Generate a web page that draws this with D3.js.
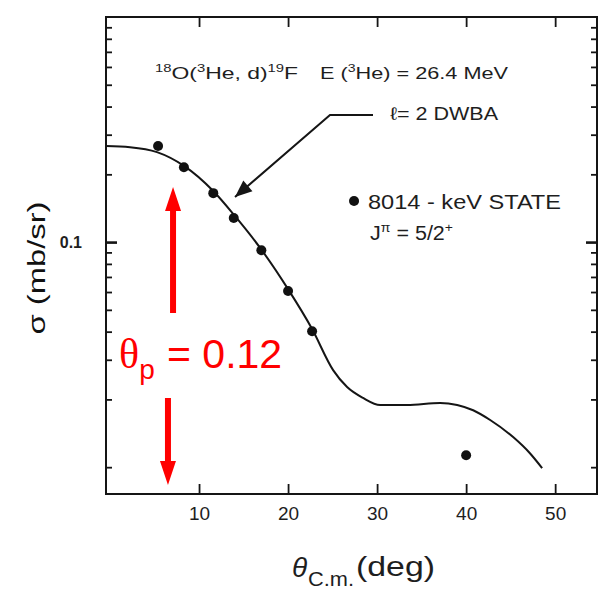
<!DOCTYPE html>
<html>
<head>
<meta charset="utf-8">
<script src="https://cdn.jsdelivr.net/npm/d3@7"></script>
<style>
  body { margin: 0; background: #fff; }
  text { font-family: "Liberation Sans", Arial, sans-serif; }
</style>
</head>
<body>
<svg id="chart" width="602" height="589"></svg>
<script>
// Measured cross sections, 8014-keV state (theta c.m. in degrees, sigma in mb/sr)
const dataTheta = [5.4, 8.3, 11.6, 13.9, 17.0, 20.0, 22.7, 40.0];
const dataSigma = [0.267, 0.215, 0.165, 0.128, 0.092, 0.0606, 0.0402, 0.0113];

// l = 2 DWBA calculation
const dwbaTheta = [-0.45, 2.25, 5.28, 8.31, 11.57, 13.93, 16.97, 20.0, 22.7, 25.06, 26.63,
                   28.43, 30.34, 33.37, 37.08, 38.99, 40.79, 42.70, 45.28, 47.19, 48.54];
const dwbaSigma = [0.267, 0.264, 0.251, 0.218, 0.169, 0.132, 0.093, 0.0618, 0.0411, 0.0270, 0.0227,
                   0.0203, 0.0189, 0.0189, 0.0193, 0.0189, 0.0179, 0.0162, 0.0136, 0.0115, 0.0099];

// Axis ticks
const xTickValues = [10, 20, 30, 40, 50];
const yMajorTicks = [0.1];
const yMinorTicks = [0.01, 0.02, 0.03, 0.04, 0.05, 0.06, 0.07, 0.08, 0.09,
                     0.2, 0.3, 0.4, 0.5, 0.6, 0.7, 0.8, 0.9];
const yTickLabels = ["0.1"];

// Annotation anchors in data space: [theta, sigma]
const leaderPath = [[29.54, 0.367], [24.71, 0.367], [14.04, 0.1586]];
const legendDot = [27.41, 0.1523];
const upArrow = [[7.08, 0.0484], [7.08, 0.1757]];     // base -> tip
const downArrow = [[6.51, 0.0203], [6.51, 0.00834]];  // base -> tip

const svg = d3.select("#chart");
const ink = "#151515";
const txt = "#1e1e1e";

const x = d3.scaleLinear().domain([-0.45, 54.7]).range([106, 597]);
const y = d3.scaleLog().domain([0.0076, 1]).range([494, 17]);

const [x0, x1] = x.range();
const [yb, yt] = y.range();

// Frame
svg.append("rect")
  .attr("x", x0).attr("y", yt)
  .attr("width", x1 - x0).attr("height", yb - yt)
  .attr("fill", "none").attr("stroke", ink).attr("stroke-width", 2);

function styleAxis(g) {
  g.select(".domain").remove();
  g.selectAll(".tick line").attr("stroke", ink).attr("stroke-width", 1.8);
}

// Bottom axis with labels, ticks pointing inward
svg.append("g")
  .attr("transform", `translate(0,${yb})`)
  .call(d3.axisBottom(x).tickValues(xTickValues).tickSize(-10).tickPadding(13)
        .tickFormat(d3.format("d")))
  .call(styleAxis)
  .call(g => g.selectAll("text")
        .attr("font-family", "Liberation Sans, Arial, sans-serif")
        .attr("font-size", 19).attr("fill", txt));

// Top axis
svg.append("g")
  .attr("transform", `translate(0,${yt})`)
  .call(d3.axisTop(x).tickValues(xTickValues).tickSize(-10).tickFormat(""))
  .call(styleAxis);

// Left axis: minor ticks
svg.append("g")
  .attr("transform", `translate(${x0},0)`)
  .call(d3.axisLeft(y).tickValues(yMinorTicks).tickSize(-6).tickFormat(""))
  .call(styleAxis);

// Left axis: major tick with label
svg.append("g")
  .attr("transform", `translate(${x0},0)`)
  .call(d3.axisLeft(y).tickValues(yMajorTicks).tickSize(-11).tickPadding(24)
        .tickFormat((d, i) => yTickLabels[i]))
  .call(styleAxis)
  .call(g => g.selectAll(".tick line").attr("stroke-width", 2.6))
  .call(g => g.selectAll("text")
        .attr("font-family", "Liberation Sans, Arial, sans-serif")
        .attr("font-size", 16).attr("font-weight", "bold").attr("fill", txt));

// Right axis
svg.append("g")
  .attr("transform", `translate(${x1},0)`)
  .call(d3.axisRight(y).tickValues(yMinorTicks).tickSize(-6).tickFormat(""))
  .call(styleAxis);
svg.append("g")
  .attr("transform", `translate(${x1},0)`)
  .call(d3.axisRight(y).tickValues(yMajorTicks).tickSize(-11).tickFormat(""))
  .call(styleAxis)
  .call(g => g.selectAll(".tick line").attr("stroke-width", 2.6));

// DWBA curve
const dwba = dwbaTheta.map((t, i) => [t, dwbaSigma[i]]);
svg.append("path")
  .datum(dwba)
  .attr("fill", "none").attr("stroke", ink).attr("stroke-width", 2)
  .attr("d", d3.line().x(d => x(d[0])).y(d => y(d[1])).curve(d3.curveMonotoneX));

// Data points
const pts = dataTheta.map((t, i) => [t, dataSigma[i]]);
svg.append("g").selectAll("circle")
  .data(pts).join("circle")
  .attr("cx", d => x(d[0])).attr("cy", d => y(d[1]))
  .attr("r", 5).attr("fill", "#111");

// Legend dot
svg.append("circle")
  .attr("cx", x(legendDot[0])).attr("cy", y(legendDot[1]))
  .attr("r", 5).attr("fill", "#111");

// Helpers for lettering with raised/lowered parts
function label(xp, yp, size, width) {
  const t = svg.append("text").attr("x", xp).attr("y", yp)
    .attr("font-size", size).attr("fill", txt);
  if (width) t.attr("textLength", width).attr("lengthAdjust", "spacingAndGlyphs");
  return t;
}
const raise = (t, s, fs, d) => t.append("tspan").attr("font-size", fs).attr("dy", -d).text(s);
const back = (t, s, d) => t.append("tspan").attr("dy", d).text(s);

// Reaction label
const r1 = label(155, 79, 17, 143);
raise(r1, "18", 11, 7); back(r1, "O(", 7);
raise(r1, "3", 11, 7); back(r1, "He, d)", 7);
raise(r1, "19", 11, 7); back(r1, "F", 7);
const r2 = label(320, 79, 17, 188);
r2.append("tspan").text("E (");
raise(r2, "3", 11, 7); back(r2, "He) = 26.4 MeV", 7);

// Leader line and arrow for the DWBA label
const lp = leaderPath.map(d => [x(d[0]), y(d[1])]);
svg.append("path")
  .attr("d", d3.line()(lp))
  .attr("fill", "none").attr("stroke", ink).attr("stroke-width", 2);
{
  const [ax, ay] = lp[lp.length - 2];
  const [tx, ty] = lp[lp.length - 1];
  const ang = Math.atan2(ty - ay, tx - ax);
  const L = 17, W = 7;
  const bx = tx - L * Math.cos(ang), by = ty - L * Math.sin(ang);
  const px = -Math.sin(ang) * W, py = Math.cos(ang) * W;
  svg.append("path")
    .attr("d", `M${tx},${ty}L${bx + px},${by + py}L${bx - px},${by - py}Z`)
    .attr("fill", ink);
}
label(390, 120, 18, 108).text("\u2113= 2 DWBA");

// Legend text
label(368, 209, 20, 193).text("8014 - keV STATE");
const jp = label(370, 240, 20, 83);
jp.append("tspan").text("J");
raise(jp, "\u03c0", 13, 8);
back(jp, " = 5/2", 8);
raise(jp, "+", 13, 8);

// Axis titles
svg.append("text")
  .attr("transform", "translate(45,268) rotate(-90)")
  .attr("text-anchor", "middle")
  .attr("font-size", 23).attr("fill", "#111")
  .attr("textLength", 133).attr("lengthAdjust", "spacingAndGlyphs")
  .text("\u03c3 (mb/sr)");

svg.append("text").attr("x", 292).attr("y", 577)
  .attr("font-size", 28).attr("font-style", "italic").attr("fill", txt)
  .text("\u03b8");
label(308, 586, 21, 46).text("C.m.");
label(356, 576, 28, 79).text("(deg)");

// Red annotation: arrows and value
const red = "#ff0000";
function blockArrow(a) {
  const [bx, by] = [x(a[0][0]), y(a[0][1])];
  const [tx, ty] = [x(a[1][0]), y(a[1][1])];
  const dir = Math.sign(ty - by);
  const head = 24, hw = 8, sw = 3;
  const hy = ty - dir * head;
  return `M${bx - sw},${by}L${bx - sw},${hy}L${tx - hw},${hy}L${tx},${ty}` +
         `L${tx + hw},${hy}L${bx + sw},${hy}L${bx + sw},${by}Z`;
}
svg.append("path").attr("d", blockArrow(upArrow)).attr("fill", red);
svg.append("path").attr("d", blockArrow(downArrow)).attr("fill", red);

const rt = svg.append("text").attr("x", 119).attr("y", 368)
  .attr("font-size", 42).attr("fill", red);
rt.append("tspan").attr("font-family", "Liberation Serif, serif").text("\u03b8");
rt.append("tspan").attr("font-size", 28).attr("dy", 11).text("p");
svg.append("text").attr("x", 167).attr("y", 368)
  .attr("font-size", 41).attr("fill", red)
  .text("= 0.12");
</script>
</body>
</html>
